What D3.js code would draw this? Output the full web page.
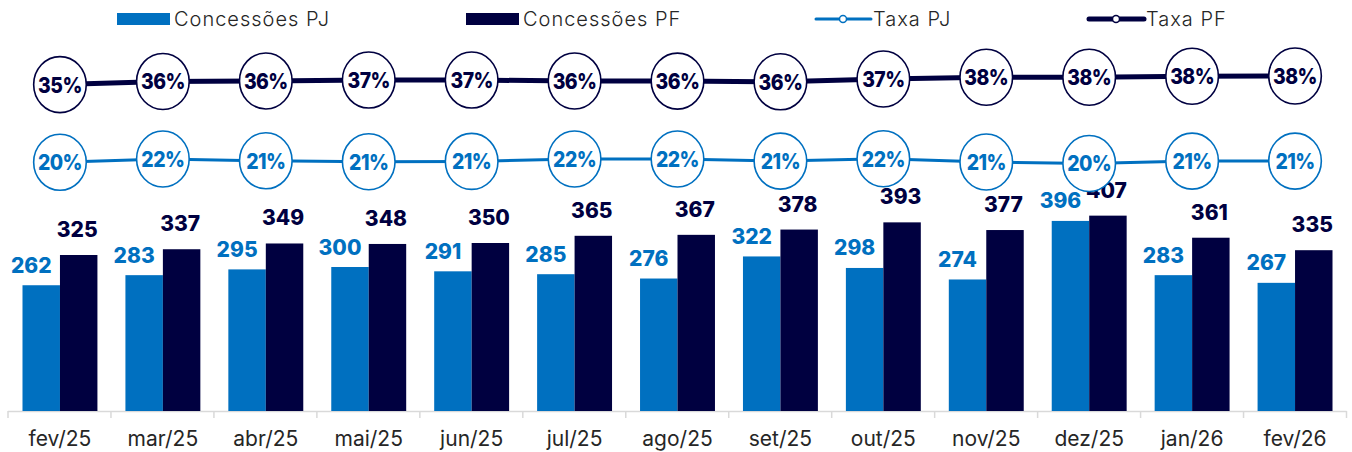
<!DOCTYPE html>
<html>
<head>
<meta charset="utf-8">
<script src="https://cdn.jsdelivr.net/npm/d3@7"></script>
<style>
  html, body { margin: 0; padding: 0; background: #ffffff; }
  svg { display: block; }
</style>
</head>
<body>
<svg id="chart" width="1352" height="452"></svg>
<script>
const categories = ["fev/25","mar/25","abr/25","mai/25","jun/25","jul/25","ago/25","set/25","out/25","nov/25","dez/25","jan/26","fev/26"];
const concessoesPJ = [262,283,295,300,291,285,276,322,298,274,396,283,267];
const concessoesPF = [325,337,349,348,350,365,367,378,393,377,407,361,335];
const taxaPJ = [0.204,0.215,0.209,0.206,0.207,0.215,0.215,0.208,0.216,0.205,0.200,0.208,0.208];
const taxaPF = [0.354,0.363,0.3645,0.367,0.367,0.3645,0.364,0.362,0.370,0.375,0.375,0.378,0.3785];
const seriesNames = ["Concessões PJ","Concessões PF","Taxa PJ","Taxa PF"];

const C_PJ = "#0070C0", C_PF = "#000040", C_TXT = "#262626";
const FONT = "Inter, 'Open Sans', sans-serif";

const svg = d3.select("#chart");

const x0 = d3.scaleBand().domain(categories).range([8.5, 1346.5]).paddingInner(0.272).paddingOuter(0.136);
const x1 = d3.scaleBand().domain(["PJ","PF"]).range([0, x0.bandwidth()]);
const xEdge = d3.scaleLinear().domain([0, categories.length]).range([7.5, 1346]);
const yBar = d3.scaleLinear().domain([0, 850]).range([411, 3]);
const yPF = d3.scaleLinear().domain([0.35, 0.38]).range([86, 75.5]);
const yPJ = d3.scaleLinear().domain([0.20, 0.22]).range([163.5, 157.5]);

// axis edges
const gEdge = svg.append("g").attr("transform", "translate(0,411)")
  .call(d3.axisBottom(xEdge).tickValues(d3.range(categories.length + 1)).tickSize(7).tickFormat("").tickSizeOuter(0));
gEdge.select(".domain").attr("stroke", "#d9d9d9").attr("stroke-width", 1.5);
gEdge.selectAll(".tick line").attr("stroke", "#d9d9d9").attr("stroke-width", 1.5);

const gX = svg.append("g").attr("transform", "translate(0,411)")
  .call(d3.axisBottom(x0).tickSize(0).tickPadding(20));
gX.select(".domain").remove();
gX.selectAll("text").attr("font-family", FONT).attr("font-size", 21).attr("fill", C_TXT).attr("font-weight", 400);

// bars
const groups = svg.append("g").selectAll("g").data(categories).join("g")
  .attr("transform", d => `translate(${x0(d)},0)`);
groups.append("rect")
  .attr("x", x1("PJ")).attr("width", x1.bandwidth())
  .attr("y", (d,i) => yBar(concessoesPJ[i])).attr("height", (d,i) => yBar(0) - yBar(concessoesPJ[i]))
  .attr("fill", C_PJ);
groups.append("rect")
  .attr("x", x1("PF")).attr("width", x1.bandwidth())
  .attr("y", (d,i) => yBar(concessoesPF[i])).attr("height", (d,i) => yBar(0) - yBar(concessoesPF[i]))
  .attr("fill", C_PF);
groups.append("text")
  .attr("x", x1("PJ") + x1.bandwidth()/2 - 10).attr("y", (d,i) => yBar(concessoesPJ[i]) - 12.5)
  .attr("text-anchor", "middle").attr("font-family", FONT).attr("font-weight", 800).attr("font-size", 21)
  .attr("fill", C_PJ).text((d,i) => concessoesPJ[i]);
groups.append("text")
  .attr("x", x1("PF") + x1.bandwidth()/2 - 1.5).attr("y", (d,i) => yBar(concessoesPF[i]) - 18)
  .attr("text-anchor", "middle").attr("font-family", FONT).attr("font-weight", 800).attr("font-size", 21)
  .attr("fill", C_PF).text((d,i) => concessoesPF[i]);

// lines
const cx = d => x0(d) + x0.bandwidth()/2;
function drawLine(vals, yS, color, width) {
  const line = d3.line().x((v,i) => cx(categories[i])).y(v => yS(v));
  svg.append("path").datum(vals).attr("d", line).attr("fill", "none")
    .attr("stroke", color).attr("stroke-width", width);
  const g = svg.append("g").selectAll("g").data(vals).join("g")
    .attr("transform", (v,i) => `translate(${cx(categories[i])},${yS(v)})`);
  g.append("ellipse").attr("rx", 26.3).attr("ry", 28).attr("fill", "#fff")
    .attr("stroke", color).attr("stroke-width", 1.6);
  g.append("text").attr("text-anchor", "middle").attr("dy", "0.36em")
    .attr("transform", "scale(0.88,1)")
    .attr("font-family", FONT).attr("font-weight", 800).attr("font-size", 22)
    .attr("letter-spacing", -0.6)
    .attr("fill", color).text(v => Math.round(v * 100) + "%");
}
drawLine(taxaPJ, yPJ, C_PJ, 3);
drawLine(taxaPF, yPF, C_PF, 5);

// legend
const leg = svg.append("g");
const legendItems = [
  {name: seriesNames[0], type: "rect", color: C_PJ, x: 117},
  {name: seriesNames[1], type: "rect", color: C_PF, x: 466},
  {name: seriesNames[2], type: "line", color: C_PJ, x: 816, w: 3},
  {name: seriesNames[3], type: "line", color: C_PF, x: 1089, w: 5}
];
legendItems.forEach(it => {
  if (it.type === "rect") {
    leg.append("rect").attr("x", it.x).attr("y", 13).attr("width", 53).attr("height", 12).attr("fill", it.color);
  } else {
    leg.append("line").attr("x1", it.x).attr("x2", it.x + 55).attr("y1", 19).attr("y2", 19)
      .attr("stroke", it.color).attr("stroke-width", it.w).attr("stroke-linecap", "round");
    leg.append("circle").attr("cx", it.x + 27).attr("cy", 19).attr("r", 3.5).attr("fill", "#fff")
      .attr("stroke", it.color).attr("stroke-width", 1.5);
  }
  leg.append("text").attr("x", it.x + 57).attr("y", 19).attr("dy", "0.35em")
    .attr("font-family", FONT).attr("font-weight", 300).attr("font-size", 20).attr("letter-spacing", 1)
    .attr("fill", C_TXT)
    .text(it.name);
});
</script>
</body>
</html>
